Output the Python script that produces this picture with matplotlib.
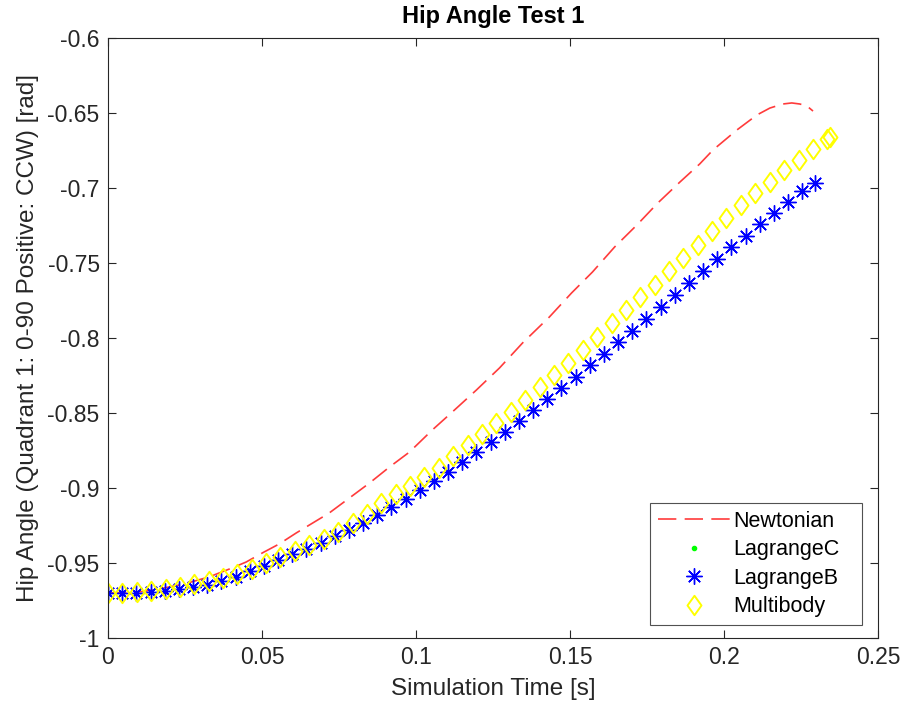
import numpy as np
import matplotlib
matplotlib.use("Agg")
import matplotlib.pyplot as plt
from matplotlib.path import Path

plt.rcParams['font.family'] = ['Liberation Sans', 'DejaVu Sans']

# ---------------- data ----------------
newton_t = [0.0, 0.0101, 0.0166, 0.0247, 0.0328, 0.0403, 0.0449, 0.0501, 0.0556,
            0.0611, 0.0718, 0.0849, 0.0914, 0.0979, 0.1053, 0.1118, 0.1196, 0.1271,
            0.1346, 0.1433, 0.1505, 0.1573, 0.1645, 0.1717, 0.1785, 0.1857, 0.1921,
            0.1964, 0.2042, 0.2107, 0.2149, 0.2191, 0.2220, 0.2246, 0.2269, 0.2289]
newton_v = [-0.970, -0.9693, -0.9673, -0.964, -0.9593, -0.9533, -0.9493, -0.9433, -0.9373,
            -0.930, -0.9167, -0.8967, -0.886, -0.876, -0.8613, -0.8493, -0.8347, -0.820,
            -0.8033, -0.786, -0.770, -0.756, -0.7393, -0.7247, -0.710, -0.696, -0.684,
            -0.6747, -0.6613, -0.6513, -0.6467, -0.644, -0.6433, -0.644, -0.6453, -0.6487]

lagrange_t = [0.0000, 0.0046, 0.0092, 0.0138, 0.0184, 0.0230, 0.0276, 0.0322, 0.0368, 0.0414,
              0.0460, 0.0506, 0.0552, 0.0598, 0.0644, 0.0690, 0.0736, 0.0782, 0.0828, 0.0874,
              0.0920, 0.0966, 0.1012, 0.1058, 0.1104, 0.1150, 0.1196, 0.1242, 0.1288, 0.1334,
              0.1380, 0.1426, 0.1472, 0.1518, 0.1564, 0.1610, 0.1656, 0.1702, 0.1748, 0.1794,
              0.1840, 0.1886, 0.1932, 0.1978, 0.2024, 0.2070, 0.2116, 0.2162, 0.2208, 0.2254,
              0.2297]
lagrangeB_v = [-0.970, -0.970, -0.9698, -0.9693, -0.9685, -0.9673, -0.966, -0.9645, -0.9620, -0.9590,
               -0.9555, -0.952, -0.948, -0.9443, -0.9407, -0.9367, -0.9323, -0.928, -0.923, -0.918,
               -0.9127, -0.907, -0.9013, -0.8953, -0.8893, -0.8827, -0.876, -0.8693, -0.8627, -0.8553,
               -0.848, -0.8407, -0.8333, -0.826, -0.8183, -0.8107, -0.8027, -0.795, -0.7873, -0.7793,
               -0.7713, -0.7633, -0.7553, -0.7473, -0.7393, -0.732, -0.7243, -0.7167, -0.7093, -0.702,
               -0.6967]
lagrangeC_v = [-0.970, -0.970, -0.9698, -0.9693, -0.9685, -0.9673, -0.966, -0.9645, -0.9620, -0.9590,
               -0.9555, -0.952, -0.948, -0.9443, -0.9407, -0.9367, -0.9323, -0.928, -0.923, -0.918,
               -0.9127, -0.907, -0.9013, -0.8953, -0.8893, -0.8827, -0.876, -0.8693, -0.8627, -0.8553,
               -0.848, -0.8407, -0.8333, -0.826, -0.8183, -0.8107, -0.8027, -0.795, -0.7873, -0.7793,
               -0.7713, -0.7633, -0.7553, -0.7473, -0.7393, -0.732, -0.7243, -0.7167, -0.7093, -0.702,
               -0.6967]

multi_t = [0.0000, 0.0047, 0.0093, 0.0140, 0.0187, 0.0234, 0.0280, 0.0327, 0.0374, 0.0420,
           0.0467, 0.0514, 0.0560, 0.0607, 0.0654, 0.0701, 0.0747, 0.0794, 0.0841, 0.0887,
           0.0934, 0.0981, 0.1027, 0.1074, 0.1121, 0.1168, 0.1214, 0.1261, 0.1308, 0.1354,
           0.1401, 0.1448, 0.1494, 0.1541, 0.1588, 0.1635, 0.1681, 0.1728, 0.1775, 0.1821,
           0.1868, 0.1915, 0.1961, 0.2008, 0.2055, 0.2102, 0.2148, 0.2195, 0.2242, 0.2288,
           0.2335, 0.2345]
multi_v = [-0.970, -0.9699, -0.9693, -0.9687, -0.9675, -0.966, -0.9643, -0.9623, -0.960, -0.957,
           -0.9537, -0.950, -0.9463, -0.9423, -0.938, -0.9337, -0.929, -0.9233, -0.9173, -0.910,
           -0.9043, -0.8987, -0.8927, -0.8867, -0.8787, -0.871, -0.864, -0.8567, -0.8493, -0.8413,
           -0.8327, -0.8247, -0.8167, -0.808, -0.7993, -0.790, -0.7813, -0.7727, -0.7647, -0.755,
           -0.7467, -0.738, -0.7287, -0.720, -0.7113, -0.703, -0.696, -0.688, -0.681, -0.674,
           -0.6673, -0.666]

series_labels = ['Newtonian', 'LagrangeC', 'LagrangeB', 'Multibody']
x_ticks = [0, 0.05, 0.1, 0.15, 0.2, 0.25]
x_tick_labels = ['0', '0.05', '0.1', '0.15', '0.2', '0.25']
y_ticks = [-1, -0.95, -0.9, -0.85, -0.8, -0.75, -0.7, -0.65, -0.6]
y_tick_labels = ['-1', '-0.95', '-0.9', '-0.85', '-0.8', '-0.75', '-0.7', '-0.65', '-0.6']

# ---------------- figure ----------------
fig = plt.figure(figsize=(9.03, 7.17), dpi=100)
ax = fig.add_axes([108/903, 1-638/717, (878-108)/903, (638-38)/717])

axis_col = '#262626'

ln, = ax.plot(newton_t, newton_v, color='#ff3b3b', lw=1.2, label=series_labels[0])
ln.set_dashes((11, 5))
ax.plot(lagrange_t, lagrangeC_v, ls='none', marker='o', ms=3, color='#00ff00',
        mec='#00ff00', label=series_labels[1])
ax.plot(lagrange_t, lagrangeB_v, ls='none', marker=(8, 2, 0), ms=11.5, mew=1.0,
        color='#0000ff', label=series_labels[2])
diamond = Path([(0, 1), (0.72, 0), (0, -1), (-0.72, 0), (0, 1)],
               [Path.MOVETO, Path.LINETO, Path.LINETO, Path.LINETO, Path.CLOSEPOLY])
ax.plot(multi_t, multi_v, ls='none', marker=diamond, ms=14, mew=1.4,
        mfc='none', mec='#ffff00', label=series_labels[3])

ax.set_xlim(0, 0.25)
ax.set_ylim(-1, -0.6)
ax.set_xticks(x_ticks)
ax.set_xticklabels(x_tick_labels)
ax.set_yticks(y_ticks)
ax.set_yticklabels(y_tick_labels)

for s in ax.spines.values():
    s.set_color(axis_col)
    s.set_linewidth(0.8)
ax.tick_params(direction='in', length=6, width=0.8, colors=axis_col,
               top=True, right=True, labelsize=16.5, labelcolor=axis_col, pad=6)

ax.set_title('Hip Angle Test 1', fontsize=17, fontweight='bold', color='black', pad=11)
ax.set_xlabel('Simulation Time [s]', fontsize=17.5, color=axis_col, labelpad=6)
ax.set_ylabel('Hip Angle (Quadrant 1: 0-90 Positive: CCW) [rad]', fontsize=17.5,
              color=axis_col, labelpad=6)

leg = ax.legend(loc='lower left', fontsize=15.5, frameon=True, fancybox=False,
                edgecolor=axis_col, borderpad=0.35, labelspacing=0.35,
                handlelength=3.35, handletextpad=0.15, borderaxespad=0.0,
                mode='expand',
                bbox_to_anchor=((650-108)/770, 13/600, (862-650)/770, 0.2))
leg.get_frame().set_linewidth(0.8)

fig.savefig('out.png', dpi=100)
